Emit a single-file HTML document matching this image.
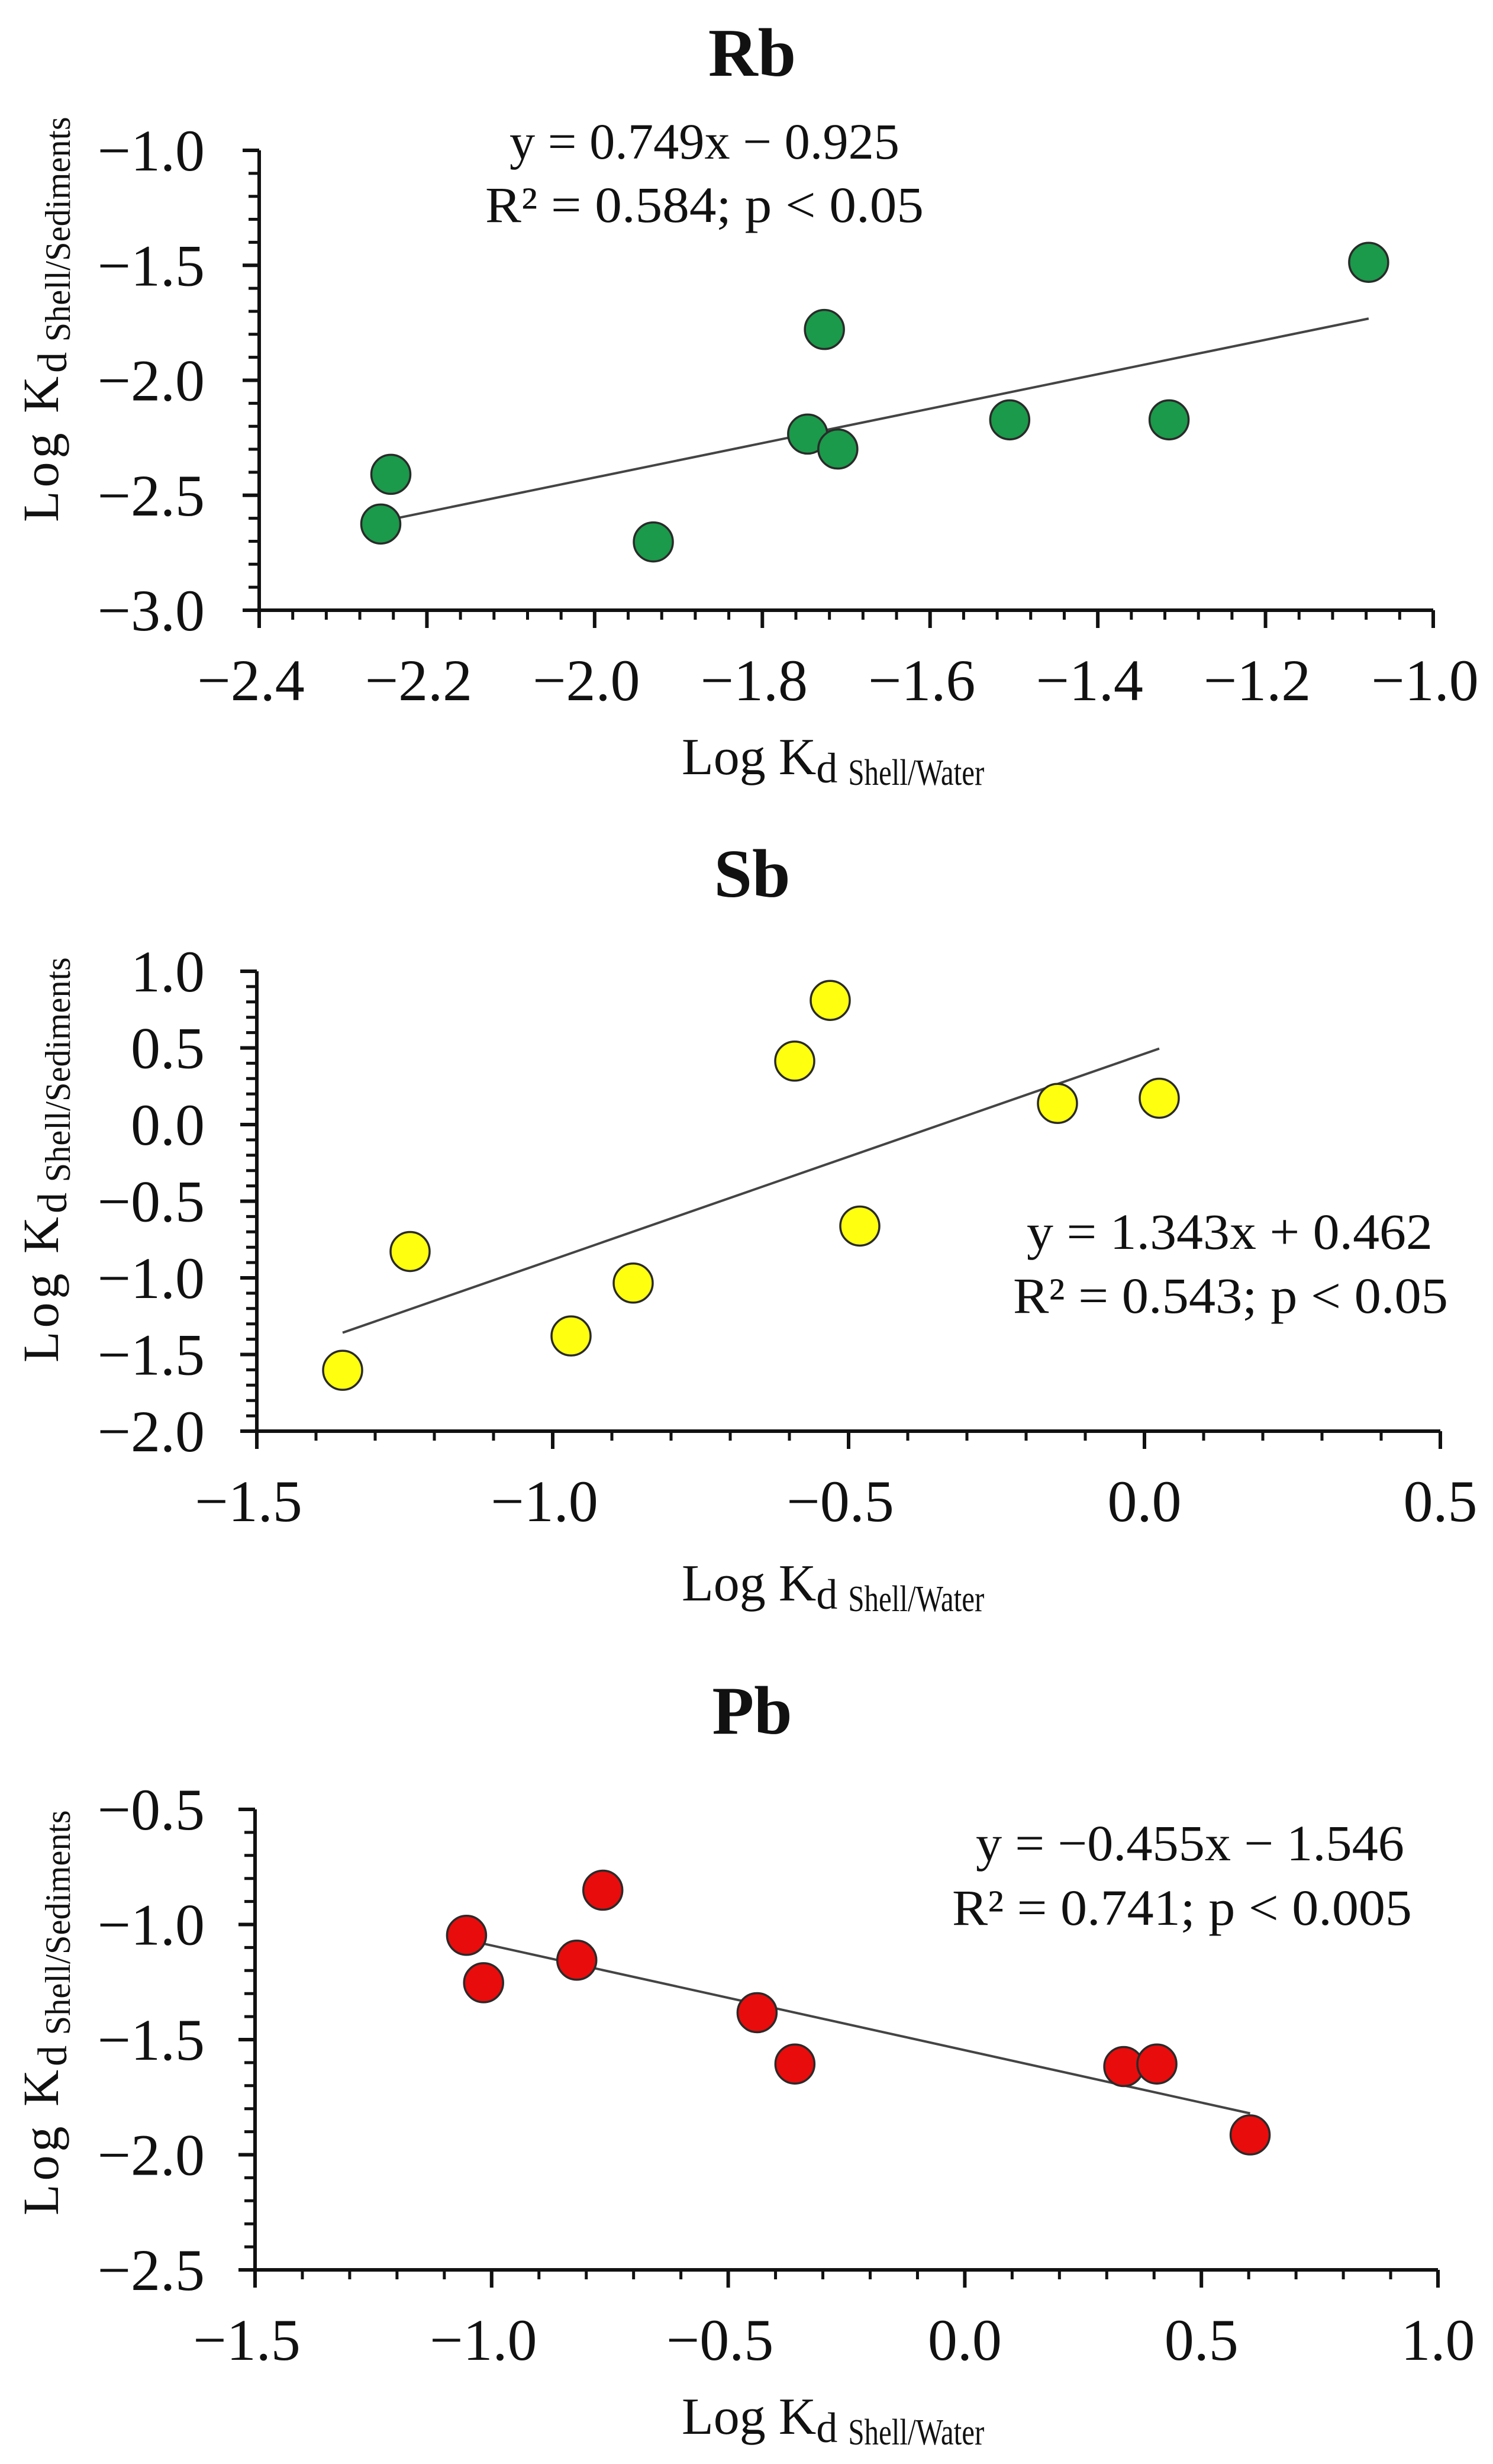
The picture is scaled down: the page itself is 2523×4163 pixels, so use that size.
<!DOCTYPE html>
<html><head><meta charset="utf-8"><style>
html,body{margin:0;padding:0;background:#fff;}
svg{display:block;}
text{font-family:"Liberation Serif",serif;fill:#111;}
</style></head><body>
<svg id="fig" width="2523" height="4163" viewBox="0 0 2523 4163" xmlns="http://www.w3.org/2000/svg"></svg>
<script>
// ---- Rb data ----
const rbX = [-2.243, -2.255, -1.930, -1.746, -1.726, -1.710, -1.505, -1.315, -1.077];
const rbY = [-2.409, -2.625, -2.703, -2.234, -1.779, -2.299, -2.172, -2.172, -1.487];
const rbXTicks = ["−2.4","−2.2","−2.0","−1.8","−1.6","−1.4","−1.2","−1.0"];
const rbYTicks = ["−1.0","−1.5","−2.0","−2.5","−3.0"];
const rbFit = [0.749, -0.925];
// ---- Sb data ----
const sbX = [-1.355, -1.241, -0.969, -0.864, -0.591, -0.531, -0.481, -0.147, 0.025];
const sbY = [-1.603, -0.828, -1.379, -1.034, 0.414, 0.810, -0.662, 0.138, 0.172];
const sbXTicks = ["−1.5","−1.0","−0.5","0.0","0.5"];
const sbYTicks = ["1.0","0.5","0.0","−0.5","−1.0","−1.5","−2.0"];
const sbFit = [1.343, 0.462];
// ---- Pb data ----
const pbX = [-1.053, -1.017, -0.765, -0.820, -0.439, -0.359, 0.336, 0.406, 0.603];
const pbY = [-1.047, -1.253, -0.851, -1.155, -1.383, -1.606, -1.617, -1.606, -1.914];
const pbXTicks = ["−1.5","−1.0","−0.5","0.0","0.5","1.0"];
const pbYTicks = ["−0.5","−1.0","−1.5","−2.0","−2.5"];
const pbFit = [-0.455, -1.546];

const NS = "http://www.w3.org/2000/svg";
const fig = document.getElementById('fig');
function mk(tag, attrs, parent){
  const e = document.createElementNS(NS, tag);
  for (const k in attrs) e.setAttribute(k, attrs[k]);
  (parent||fig).appendChild(e);
  return e;
}
function num(s){ return parseFloat(s.replace('−','-')); }

function chart(o){
  const g = mk('g', {});
  
  
  const xmin = num(o.xt[0]), xmax = num(o.xt[o.xt.length-1]);
  const ymax = num(o.yt[0]), ymin = num(o.yt[o.yt.length-1]);
  const sx = v => o.L + (v - xmin) / (xmax - xmin) * (o.R - o.L);
  const sy = v => o.B - (v - ymin) / (ymax - ymin) * (o.B - o.T);

  const t = mk('text', {x: 1271, y: o.titleY, 'font-size': 116, 'font-weight': 'bold', 'text-anchor': 'middle'}, g);
  t.textContent = o.title;
  
  

  for (let v = xmin; v <= xmax + 1e-9; v += o.xminor) {
    const tk = mk('line', {x1: sx(v), x2: sx(v), y1: o.B, y2: o.B + 16, stroke: '#111', 'stroke-width': 5}, g);
    
    
  }
  for (let v = ymin; v <= ymax + 1e-9; v += o.yminor) {
    const tk = mk('line', {x1: o.L - 18, x2: o.L, y1: sy(v), y2: sy(v), stroke: '#111', 'stroke-width': 5}, g);
    
    
  }
  o.xt.forEach(s => {
    const v = num(s);
    const tk = mk('line', {x1: sx(v), x2: sx(v), y1: o.B, y2: o.B + 30, stroke: '#111', 'stroke-width': 6}, g);
    
    
    const lb = mk('text', {x: sx(v) - (s[0]==='−'?14:0), y: o.B + 152, 'font-size': 100, 'text-anchor': 'middle'}, g);
    lb.textContent = s;
    
    
  });
  o.yt.forEach(s => {
    const v = num(s);
    const tk = mk('line', {x1: o.L - 28, x2: o.L, y1: sy(v), y2: sy(v), stroke: '#111', 'stroke-width': 6}, g);
    
    
    const lb = mk('text', {x: 346, y: sy(v) + 34, 'font-size': 100, 'text-anchor': 'end'}, g);
    lb.textContent = s;
    
    
  });
  const ax = mk('path', {d: `M${o.L},${o.T} L${o.L},${o.B} L${o.R},${o.B}`, fill: 'none', stroke: '#111', 'stroke-width': 6}, g);
  
  

  const xs = o.xs, lo = Math.min(...xs), hi = Math.max(...xs);
  const fl = mk('line', {x1: sx(lo), y1: sy(o.fit[0]*lo + o.fit[1]), x2: sx(hi), y2: sy(o.fit[0]*hi + o.fit[1]), stroke: '#444', 'stroke-width': 4}, g);
  
  

  xs.forEach((xv, i) => {
    const c = mk('circle', {cx: sx(xv), cy: sy(o.ys[i]), r: 33, fill: o.color, stroke: '#2a2a2a', 'stroke-width': 3.5}, g);
    
    
  });

  o.eq.forEach(e => {
    const tx = mk('text', {x: e[1], y: e[3], 'font-size': 86, textLength: e[2]-e[1], lengthAdjust: 'spacingAndGlyphs'}, g);
    tx.textContent = e[0];
    
    
  });

  const xt = mk('text', {x: 1152, y: o.xtY, 'font-size': 88}, g);
  
  
  const a1 = mk('tspan', {}, xt); a1.textContent = 'Log K';
  const a2 = mk('tspan', {'font-size': 72, dy: 14}, xt); a2.textContent = 'd ';
  const a3 = mk('tspan', {'font-size': 62, textLength: 230, lengthAdjust: 'spacingAndGlyphs', dy: 4}, xt); a3.textContent = 'Shell/Water';

  const yt = mk('text', {x: 0, y: 0, 'font-size': 86, transform: `translate(98,${o.ytBottom}) rotate(-90)`}, g);
  
  
  const b1 = mk('tspan', {'letter-spacing': 6}, yt); b1.textContent = 'Log K';
  const b2 = mk('tspan', {'font-size': 70, dy: 14}, yt); b2.textContent = 'd ';
  const b3 = mk('tspan', {'font-size': 60, textLength: 380, lengthAdjust: 'spacingAndGlyphs', dy: 6}, yt); b3.textContent = 'Shell/Sediments';
}

chart({key:'rb', title:'Rb', titleY:128, L:438, R:2422, T:254, B:1031, xt:rbXTicks, yt:rbYTicks,
  xminor:0.04, yminor:0.1, xs:rbX, ys:rbY, fit:rbFit, color:'#1a9a4a',
  eq:[['y = 0.749x − 0.925',861,1520,268],['R² = 0.584; p < 0.05',820,1561,375]],
  xtY:1308, ytBottom:882});
chart({key:'sb', title:'Sb', titleY:1515, L:434, R:2434, T:1641, B:2418, xt:sbXTicks, yt:sbYTicks,
  xminor:0.1, yminor:0.1, xs:sbX, ys:sbY, fit:sbFit, color:'#ffff10',
  eq:[['y = 1.343x + 0.462',1735,2421,2110],['R² = 0.543; p < 0.05',1712,2447,2218]],
  xtY:2704, ytBottom:2302});
chart({key:'pb', title:'Pb', titleY:2929, L:431, R:2430, T:3057, B:3835, xt:pbXTicks, yt:pbYTicks,
  xminor:0.1, yminor:0.1, xs:pbX, ys:pbY, fit:pbFit, color:'#e80c0c',
  eq:[['y = −0.455x − 1.546',1649,2373,3143],['R² = 0.741; p < 0.005',1609,2386,3252]],
  xtY:4112, ytBottom:3743});
</script>
</body></html>
